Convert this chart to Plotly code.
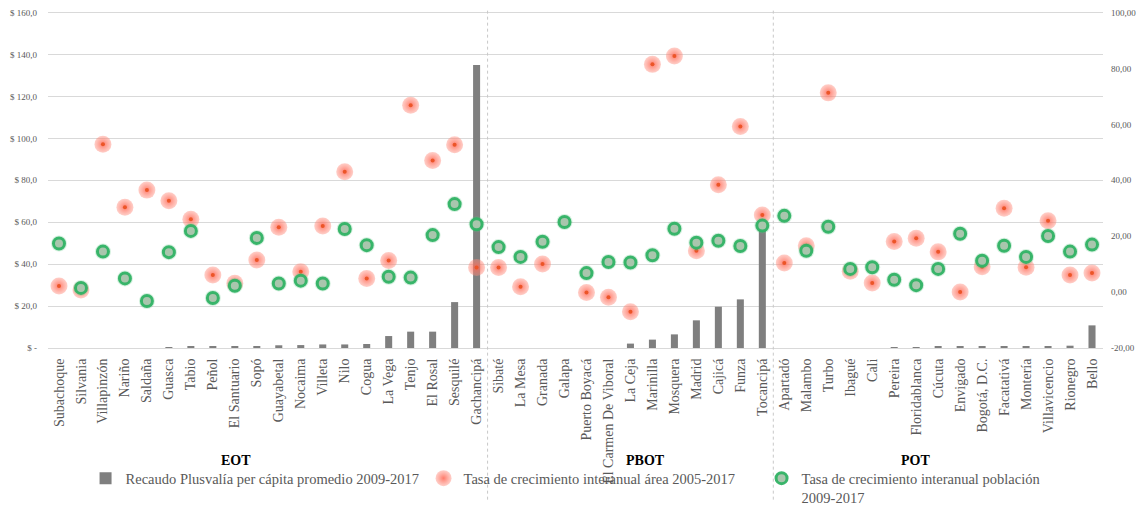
import plotly.graph_objects as go

categories = [
    "Subachoque", "Silvania", "Villapinzón", "Nariño", "Saldaña", "Guasca", "Tabio", "Peñol",
    "El Santuario", "Sopó", "Guayabetal", "Nocaima", "Villeta", "Nilo", "Cogua", "La Vega",
    "Tenjo", "El Rosal", "Sesquilé", "Gachancipá",
    "Sibaté", "La Mesa", "Granada", "Galapa", "Puerto Boyacá", "El Carmen De Viboral", "La Ceja",
    "Marinilla", "Mosquera", "Madrid", "Cajicá", "Funza", "Tocancipá",
    "Apartadó", "Malambo", "Turbo", "Ibagué", "Cali", "Pereira", "Floridablanca", "Cúcuta",
    "Envigado", "Bogotá, D.C.", "Facatativá", "Montería", "Villavicencio", "Rionegro", "Bello",
]

recaudo = [
    0, 0, 0, 0, 0, 0.3, 0.5, 0.6, 0.6, 0.6, 1.3, 1.4, 1.7, 1.7, 1.9, 5.7, 7.8, 7.8, 21.9, 135.0,
    0, 0, 0, 0, 0, 0, 2.1, 4.0, 6.5, 13.2, 19.7, 23.2, 57.8,
    0, 0, 0, 0, 0, 0.2, 0.2, 0.5, 0.6, 0.6, 0.6, 0.6, 0.6, 1.1, 10.8,
]

area = [
    2.2, 0.8, 52.9, 30.4, 36.5, 32.7, 26.1, 6.1, 3.2, 11.5, 23.2, 7.3, 23.7, 43.1, 4.9, 11.3,
    66.9, 47.1, 52.7, 8.8,
    8.8, 1.9, 10.1, None, -0.1, -1.8, -7.0, 81.5, 84.5, 14.8, 38.4, 59.3, 27.6,
    10.4, 16.6, 71.3, 7.5, 3.3, 18.1, 19.3, 14.4, 0.0, 9.1, 30.0, 8.9, 25.5, 6.1, 6.8,
]

poblacion = [
    17.4, 1.5, 14.5, 4.9, -3.2, 14.3, 21.9, -2.1, 2.3, 19.4, 3.1, 4.1, 3.1, 22.6, 16.8, 5.5,
    5.2, 20.4, 31.5, 24.3,
    16.1, 12.6, 18.0, 25.1, 6.8, 10.8, 10.6, 13.2, 22.7, 17.7, 18.4, 16.5, 23.8,
    27.3, 14.8, 23.4, 8.3, 8.9, 4.4, 2.5, 8.3, 20.9, 11.2, 16.6, 12.6, 20.1, 14.5, 17.0,
]

groups = ["EOT", "PBOT", "POT"]
group_sizes = [20, 13, 15]

left_ticks = [0, 20, 40, 60, 80, 100, 120, 140, 160]
left_ticktext = ["$ -", "$ 20,0", "$ 40,0", "$ 60,0", "$ 80,0", "$ 100,0", "$ 120,0", "$ 140,0", "$ 160,0"]
right_ticks = [-20, 0, 20, 40, 60, 80, 100]
right_ticktext = ["-20,00", "0,00", "20,00", "40,00", "60,00", "80,00", "100,00"]

series_names = [
    "Recaudo Plusvalía per cápita promedio 2009-2017",
    "Tasa de crecimiento interanual área 2005-2017",
    "Tasa de crecimiento interanual población<br>2009-2017",
]

FONT = "Liberation Serif"
GRAY = "#595959"

fig = go.Figure()

fig.add_trace(go.Bar(
    x=categories, y=recaudo, name=series_names[0], yaxis="y",
    marker=dict(color="#7f7f7f", line=dict(width=0)), width=0.32,
))

fig.add_trace(go.Scatter(
    x=categories, y=area, name=series_names[1], yaxis="y2", mode="markers",
    marker=dict(size=17, color="rgba(255,140,125,0.42)",
                gradient=dict(type="radial", color="rgba(255,100,80,0.85)"),
                line=dict(width=0)),
    legendgroup="area",
))
fig.add_trace(go.Scatter(
    x=categories, y=area, yaxis="y2", mode="markers", showlegend=False,
    marker=dict(size=4, color="#ec5528", line=dict(width=0)),
    legendgroup="area", hoverinfo="skip",
))

fig.add_trace(go.Scatter(
    x=categories, y=poblacion, yaxis="y2", mode="markers", showlegend=False,
    marker=dict(size=16, color="rgba(90,200,130,0.25)", line=dict(width=0)),
    legendgroup="pob", hoverinfo="skip",
))
fig.add_trace(go.Scatter(
    x=categories, y=poblacion, name=series_names[2], yaxis="y2", mode="markers",
    marker=dict(size=11, color="#a9c6ad", line=dict(color="rgba(48,178,100,0.95)", width=3)),
    legendgroup="pob",
))

# group separators
shapes = []
boundary = -0.5
for size in group_sizes[:-1]:
    boundary += size
    shapes.append(dict(type="line", xref="x", yref="paper", x0=boundary, x1=boundary,
                       y0=-0.45, y1=1.01, line=dict(color="#c8c8c8", width=1, dash="dot")))

group_label_x = [0.178, 0.566, 0.822]
annotations = []
for g, gx in zip(groups, group_label_x):
    annotations.append(dict(text="<b>%s</b>" % g, xref="paper", yref="paper", x=gx, y=-0.333,
                            showarrow=False, font=dict(family=FONT, size=14, color="#000000"),
                            xanchor="center", yanchor="middle"))

fig.update_layout(
    width=1137, height=497,
    margin=dict(l=40, r=42, t=3, b=157, autoexpand=False),
    paper_bgcolor="white", plot_bgcolor="white",
    font=dict(family=FONT, color=GRAY),
    bargap=0.6,
    showlegend=True,
    legend=dict(orientation="h", x=0.0356, y=-0.339, xanchor="left", yanchor="top",
                font=dict(family=FONT, size=14.5, color=GRAY), valign="top",
                entrywidth=293, entrywidthmode="pixels", itemsizing="trace",
                bgcolor="rgba(0,0,0,0)", tracegroupgap=0),
    xaxis=dict(type="category", range=[-0.5, len(categories) - 0.5], tickangle=-90,
               tickfont=dict(family=FONT, size=14, color=GRAY), showgrid=False,
               showline=True, linecolor="#d9d9d9", linewidth=1, ticks="", zeroline=False,
               ticklabelstandoff=4, automargin=False),
    yaxis=dict(range=[0, 160.8], tickvals=left_ticks, ticktext=left_ticktext,
               tickfont=dict(family=FONT, size=9, color=GRAY), showgrid=True,
               gridcolor="#d9d9d9", gridwidth=1, zeroline=False, showline=False, ticks="",
               ticklabelstandoff=10, automargin=False, ticklabeloverflow="allow"),
    yaxis2=dict(range=[-20, 100.6], tickvals=right_ticks, ticktext=right_ticktext,
                overlaying="y", side="right", showgrid=False, zeroline=False, showline=False,
                tickfont=dict(family=FONT, size=9, color=GRAY), ticks="",
                ticklabelstandoff=7, automargin=False, ticklabeloverflow="allow"),
    shapes=shapes,
    annotations=annotations,
)

fig.write_html("out.html")
